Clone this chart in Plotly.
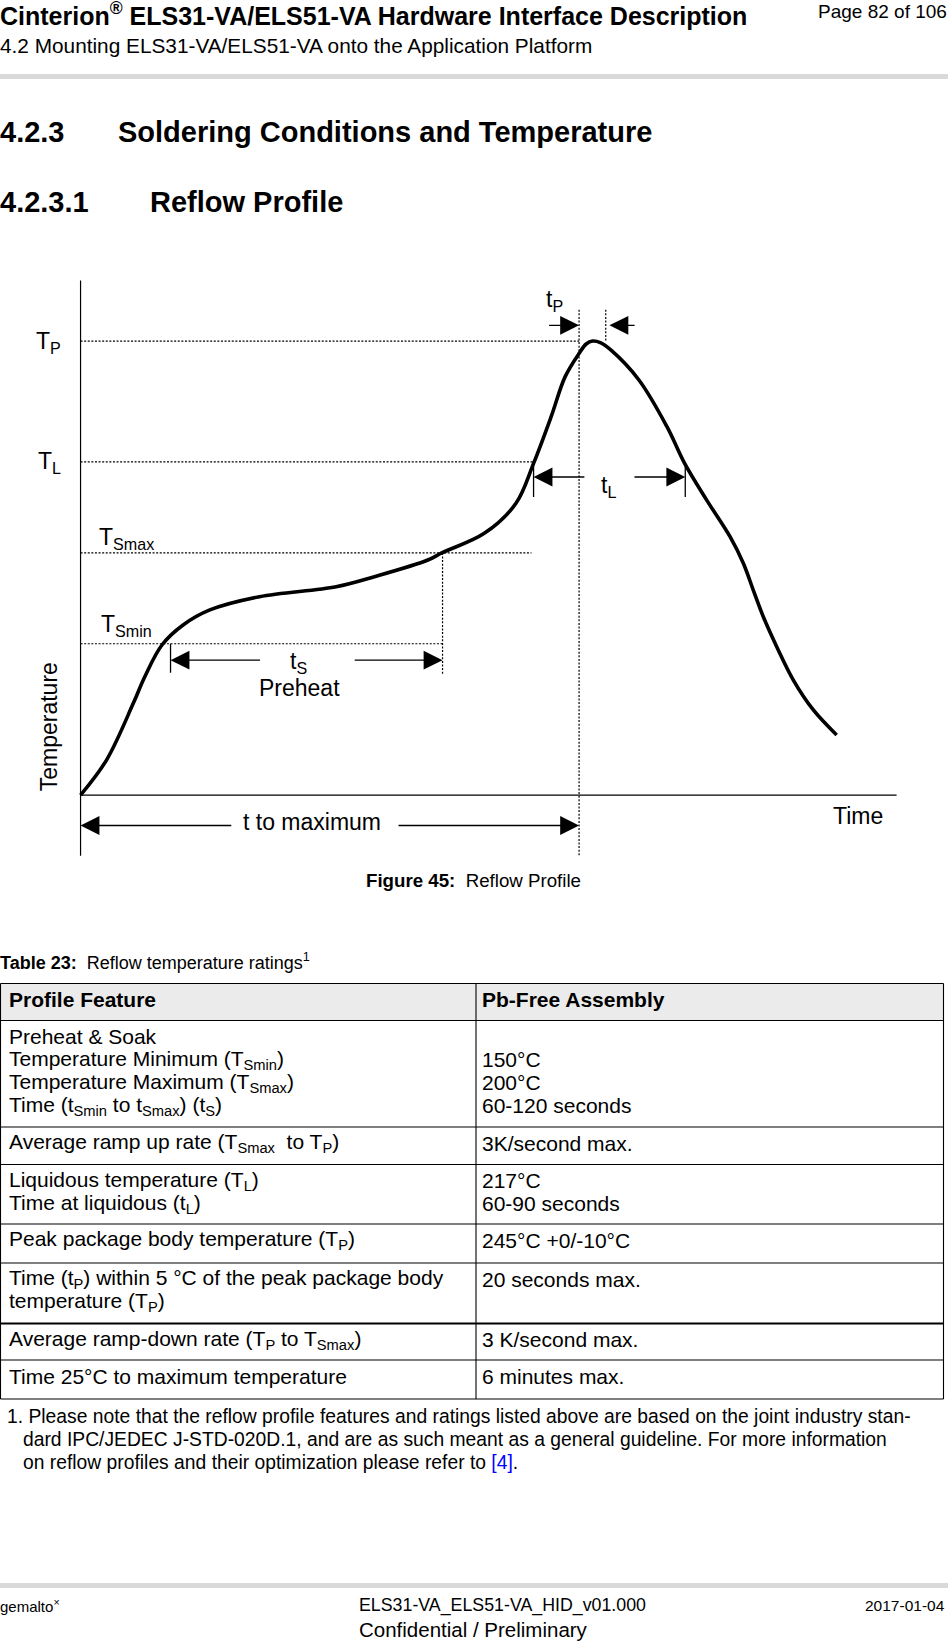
import plotly.graph_objects as go

W, H = 951, 1641
FONT = "Liberation Sans, Arial, Helvetica, sans-serif"

# ---------------- chart data (schematic reflow profile) ----------------
time_pts = [0, 24.8, 50.4, 61.4, 77.8, 98, 123.6, 171.1, 244.3, 280.9, 332, 345.7,
            385.9, 416.2, 433, 449.8, 463.2, 476.6, 483.3, 489.4, 496.8, 506.8, 533.7,
            560.5, 577.4, 598.5, 620.8, 633.5, 643, 652.6, 665.4, 681.3, 700.4, 722.7]
level_pts = [0, 33.5, 87.7, 113.2, 143.5, 162.6, 177, 189.7, 199.2, 208.8, 224.7, 231.7,
             250.2, 278.9, 317.1, 361.7, 400, 422.3, 431.2, 434, 432.5, 425.5, 396.8,
             352.2, 317.1, 282, 247, 221.6, 196, 170.5, 141.9, 110, 81.4, 57.5]

TP_LVL, TL_LVL, TSMAX_LVL, TSMIN_LVL = 434, 318.5, 231.5, 144.7
T_TS_START, T_TS_END = 86, 346
T_L1, T_L2 = 433, 578
T_P1, T_P2 = 476.5, 502
T_AXIS_END = 780

# ---------------- table data ----------------
table_header = ["Profile Feature", "Pb-Free Assembly"]
table_left = [
    ["Preheat &amp; Soak", "Temperature Minimum (T<sub>Smin</sub>)",
     "Temperature Maximum (T<sub>Smax</sub>)",
     "Time (t<sub>Smin</sub> to t<sub>Smax</sub>) (t<sub>S</sub>)"],
    ["Average ramp up rate (T<sub>Smax</sub>\u00a0 to T<sub>P</sub>)"],
    ["Liquidous temperature (T<sub>L</sub>)", "Time at liquidous (t<sub>L</sub>)"],
    ["Peak package body temperature (T<sub>P</sub>)"],
    ["Time (t<sub>P</sub>) within 5 °C of the peak package body", "temperature (T<sub>P</sub>)"],
    ["Average ramp-down rate (T<sub>P</sub> to T<sub>Smax</sub>)"],
    ["Time 25°C to maximum temperature"],
]
table_right = [
    ["", "150°C", "200°C", "60-120 seconds"],
    ["3K/second max."],
    ["217°C", "60-90 seconds"],
    ["245°C +0/-10°C"],
    ["20 seconds max."],
    ["3 K/second max."],
    ["6 minutes max."],
]
row_edges = [983.5, 1020.5, 1127, 1164.5, 1224, 1263, 1323.5, 1360, 1399]
footnote = [
    "1. Please note that the reflow profile features and ratings listed above are based on the joint industry stan-",
    "dard IPC/JEDEC J-STD-020D.1, and are as such meant as a general guideline. For more information",
    "on reflow profiles and their optimization please refer to <span style='color:#0000ff'>[4]</span>.",
]

# ---------------- helpers ----------------
ann = []
shapes = []


def ptext(s, x, y, size, anchor="left", color="black", bold=False):
    ann.append(dict(text=f"<b>{s}</b>" if bold else s, x=x / W, y=1 - y / H,
                    xref="paper", yref="paper", xanchor=anchor, yanchor="middle",
                    showarrow=False, font=dict(size=size, color=color, family=FONT)))


def pline(x0, y0, x1, y1, width=1, color="black"):
    shapes.append(dict(type="line", xref="paper", yref="paper",
                       x0=x0 / W, x1=x1 / W, y0=1 - y0 / H, y1=1 - y1 / H,
                       line=dict(color=color, width=width)))


def prect(x0, y0, x1, y1, fill):
    shapes.append(dict(type="rect", xref="paper", yref="paper", layer="below",
                       x0=x0 / W, x1=x1 / W, y0=1 - y1 / H, y1=1 - y0 / H,
                       fillcolor=fill, line=dict(width=0)))


DOT = "2px,1.6px"


def dline(x0, y0, x1, y1, dash=DOT, width=1.2):
    shapes.append(dict(type="line", xref="x", yref="y", x0=x0, x1=x1, y0=y0, y1=y1,
                       line=dict(color="black", width=width, dash=dash)))


def arrow(xh, yh, xt, yt):
    ann.append(dict(text="", x=xh, y=yh, ax=xt, ay=yt, xref="x", yref="y",
                    axref="x", ayref="y", showarrow=True, arrowhead=2,
                    arrowsize=2.7, arrowwidth=1.4, arrowcolor="black", standoff=0))


def ctext(s, x, y, size=23, anchor="center", angle=0):
    ann.append(dict(text=s, x=x, y=y, xref="x", yref="y", xanchor=anchor,
                    yanchor="middle", showarrow=False, textangle=angle,
                    font=dict(size=size, color="black", family=FONT)))


# ---------------- page header ----------------
ptext("Cinterion<sup>®</sup> ELS31-VA/ELS51-VA Hardware Interface Description", -2, 13.5, 25, bold=True)
ptext("Page 82 of 106", 949, 11.5, 19, anchor="right")
ptext("4.2 Mounting ELS31-VA/ELS51-VA onto the Application Platform", -2, 46, 20.8)
prect(0, 74, 948, 79, "#d9d9d9")

ptext("4.2.3", -2, 132, 29, bold=True)
ptext("Soldering Conditions and Temperature", 116, 132, 29, bold=True)
ptext("4.2.3.1", -2, 202, 29, bold=True)
ptext("Reflow Profile", 148, 202, 29, bold=True)

# ---------------- chart ----------------
S = 951 / 909
X0, Y0 = 77 * S, 760 * S
XR = [-70, 820]
YR = [-90, 510]
xdom = [(X0 + XR[0] * S) / W, (X0 + XR[1] * S) / W]
ydom = [1 - (Y0 - YR[0] * S) / H, 1 - (Y0 - YR[1] * S) / H]

# axes
dline(0, -58, 0, 492, dash="solid", width=1.2)
dline(0, 0, T_AXIS_END, 0, dash="solid", width=1.2)
# reference levels
dline(0, TP_LVL, T_P1, TP_LVL)
dline(0, TL_LVL, T_L1, TL_LVL)
dline(0, TSMAX_LVL, 431, TSMAX_LVL)
dline(0, TSMIN_LVL, T_TS_END, TSMIN_LVL)
# verticals
dline(T_TS_END, TSMAX_LVL, T_TS_END, 115)
dline(T_P1, 464, T_P1, -58)
dline(T_P2, 464, T_P2, TP_LVL)
dline(T_TS_START, TSMIN_LVL, T_TS_START, 117, dash="solid", width=1.3)
dline(T_L1, TL_LVL, T_L1, 285, dash="solid", width=1.3)
dline(T_L2, TL_LVL, T_L2, 285, dash="solid", width=1.3)

# arrows
arrow(T_P1, 449, 446.4, 449)
arrow(T_P2 + 3.5, 449, 531, 449)
arrow(T_L1, 304, 483, 304)
arrow(T_L2, 304, 528, 304)
arrow(T_TS_START, 129, 173, 129)
arrow(T_TS_END, 129, 260.6, 129)
arrow(0, -29, 145.5, -29)
arrow(T_P1, -29, 302.5, -29)

# labels
ctext("T<sub>P</sub>", -31, 433)
ctext("T<sub>L</sub>", -30, 318)
ctext("T<sub>Smax</sub>", 16, 245, anchor="left")
ctext("T<sub>Smin</sub>", 18, 162, anchor="left")
ctext("t<sub>P</sub>", 453, 473)
ctext("t<sub>L</sub>", 505, 295)
ctext("t<sub>S</sub>", 208, 127)
ctext("Preheat", 209, 102)
ctext("t to maximum", 221, -26)
ctext("Time", 743, -20)
ctext("Temperature", -30, 65, angle=-90)

ptext("<b>Figure 45:</b>\u00a0 Reflow Profile", 473, 880, 18.7, anchor="center")

# ---------------- table ----------------
ptext("<b>Table 23:</b>\u00a0 Reflow temperature ratings<sup>1</sup>", -2, 961.5, 18)
TL_X, TDIV, TR_X = 0.5, 476, 943.5
prect(TL_X, row_edges[0], TR_X, row_edges[1], "#ebebeb")
for i, yv in enumerate(row_edges):
    pline(TL_X, yv, TR_X, yv, width=2.2 if i == 6 else 1.1)
pline(TL_X, row_edges[0], TL_X, row_edges[-1], width=1.1)
pline(TDIV, row_edges[0], TDIV, row_edges[-1], width=1.1)
pline(TR_X, row_edges[0], TR_X, row_edges[-1], width=1.1)

TFS = 21
ptext(table_header[0], 7, row_edges[0] + 16, TFS, bold=True)
ptext(table_header[1], 480, row_edges[0] + 16, TFS, bold=True)
for r, (lft, rgt) in enumerate(zip(table_left, table_right)):
    top = row_edges[r + 1]
    for k, s in enumerate(lft):
        ptext(s, 7, top + 16 + 23 * k, TFS)
    for k, s in enumerate(rgt):
        if s:
            ptext(s, 480, top + 16 + 23 * k, TFS)

for k, s in enumerate(footnote):
    ptext(s, 5 if k == 0 else 21, 1416.5 + 23 * k, 19.3)

# ---------------- footer ----------------
prect(0, 1583, 948, 1588, "#d9d9d9")
ptext("gemalto<sup>×</sup>", -2, 1605, 15)
ptext("ELS31-VA_ELS51-VA_HID_v01.000", 357, 1605, 17.8)
ptext("Confidential / Preliminary", 357, 1629, 20.5)
ptext("2017-01-04", 947, 1605, 15.5, anchor="right")

# ---------------- figure ----------------
fig = go.Figure()
fig.add_trace(go.Scatter(x=time_pts, y=level_pts, mode="lines",
                         line=dict(color="black", width=3.6, shape="spline", smoothing=1.0),
                         hoverinfo="skip", showlegend=False))
fig.update_layout(
    width=W, height=H, margin=dict(l=0, r=0, t=0, b=0),
    paper_bgcolor="white", plot_bgcolor="white",
    xaxis=dict(domain=xdom, range=XR, visible=False, fixedrange=True),
    yaxis=dict(domain=ydom, range=YR, visible=False, fixedrange=True),
    annotations=ann, shapes=shapes, showlegend=False,
    font=dict(family=FONT),
)
fig.write_html("out.html", config={"displayModeBar": False},
               post_script="document.body.style.margin='0';document.body.style.overflow='hidden';")
